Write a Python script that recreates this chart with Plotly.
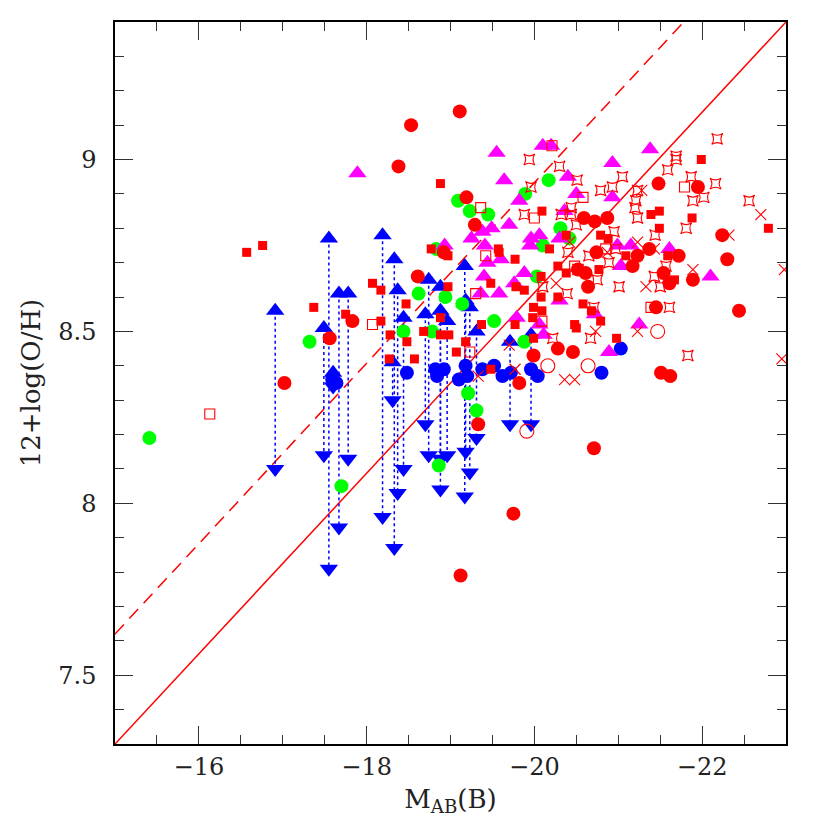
import plotly.graph_objects as go

# --- data (M_AB(B), 12+log(O/H)) ---
red_circ_mag = [-19.11, -18.53, -18.38, -17.02, -17.56, -19.19, -19.29, -18.92, -18.61, -17.83,
                -19.33, -19.75, -19.12, -20.59, -20.72, -20.87, -20.74, -21.17, -20.52, -20.61,
                -20.64, -21.23, -21.48, -21.95, -22.24, -22.30, -21.37, -21.72, -21.54, -21.89,
                -21.61, -21.45, -22.44, -21.51, -21.62, -20.28, -20.46, -19.99, -19.82, -20.71]
red_circ_oh = [9.14, 9.10, 8.98, 8.35, 8.48, 8.89, 8.81, 8.73, 8.66, 8.53,
               8.23, 7.97, 7.79, 8.83, 8.82, 8.83, 8.73, 8.69, 8.68, 8.67,
               8.63, 8.72, 8.93, 8.92, 8.78, 8.71, 8.74, 8.72, 8.67, 8.65,
               8.64, 8.57, 8.56, 8.38, 8.37, 8.45, 8.44, 8.43, 8.35, 8.16]

red_ocirc_mag = [-20.16, -20.64, -19.91, -21.47]
red_ocirc_oh = [8.40, 8.40, 8.21, 8.50]

red_sq_mag = [-16.57, -16.76, -17.37, -17.75, -18.88, -18.77, -18.97, -19.58, -18.07, -18.17,
              -18.97, -19.48, -18.17, -18.28, -18.48, -18.47, -18.27, -18.57, -18.68, -18.88,
              -18.88, -18.98, -19.37, -19.18, -19.07, -19.48, -20.09, -20.38, -19.57, -19.77,
              -20.18, -20.79, -20.88, -20.28, -20.38, -20.77, -21.09, -20.08, -19.78, -19.88,
              -21.99, -21.39, -21.49, -21.88, -21.49, -22.79, -21.59, -21.67, -20.08, -19.99,
              -20.09, -19.98, -19.77, -19.99, -20.28, -20.58, -20.68, -20.79, -20.48, -20.50,
              -20.98]
red_sq_oh = [8.73, 8.75, 8.57, 8.55, 8.93, 8.74, 8.72, 8.73, 8.64, 8.62,
             8.63, 8.64, 8.53, 8.49, 8.47, 8.58, 8.42, 8.42, 8.50, 8.54,
             8.49, 8.49, 8.52, 8.47, 8.44, 8.39, 8.85, 8.78, 8.74, 8.71,
             8.74, 8.78, 8.77, 8.69, 8.67, 8.68, 8.72, 8.66, 8.63, 8.62,
             9.00, 8.84, 8.85, 8.83, 8.80, 8.80, 8.72, 8.65, 8.60, 8.57,
             8.56, 8.54, 8.52, 8.48, 8.60, 8.58, 8.56, 8.53, 8.52, 8.51,
             8.48]

red_osq_mag = [-16.13, -18.07, -19.36, -19.42, -19.30, -19.23, -20.21, -20.58, -20.00, -20.48,
               -20.85, -21.79, -20.09, -21.39]
red_osq_oh = [8.26, 8.52, 8.86, 8.72, 8.61, 8.44, 9.04, 8.89, 8.83, 8.69,
              8.74, 8.92, 8.53, 8.57]

red_x_mag = [-19.33, -19.70, -20.42, -20.26, -20.87, -21.23, -21.28, -22.70, -22.32, -22.98,
             -21.89, -21.33, -21.43, -19.77, -20.36, -20.48, -20.73, -21.23, -22.95]
red_x_oh = [8.37, 8.46, 8.76, 8.64, 8.73, 8.76, 8.91, 8.84, 8.78, 8.68,
            8.68, 8.63, 8.74, 8.39, 8.36, 8.36, 8.50, 8.50, 8.42]

red_star_mag = [-19.94, -20.30, -19.96, -20.51, -20.79, -20.93, -21.05, -21.23, -21.21, -21.20,
                -21.23, -19.88, -20.32, -20.44, -20.44, -20.50, -20.40, -20.65, -20.95, -20.97,
                -20.89, -20.75, -21.01, -20.52, -20.10, -22.18, -21.69, -21.69, -21.59, -21.87,
                -22.16, -21.89, -22.02, -22.56, -21.81, -21.44, -21.57, -21.43, -21.50, -20.39,
                -20.71, -20.22, -20.67, -21.61, -21.83]
red_star_oh = [9.00, 8.98, 8.92, 8.94, 8.91, 8.92, 8.95, 8.91, 8.88, 8.86,
               8.83, 8.84, 8.84, 8.86, 8.84, 8.81, 8.73, 8.72, 8.79, 8.74,
               8.70, 8.65, 8.63, 8.68, 8.63, 9.06, 9.01, 9.00, 8.97, 8.95,
               8.93, 8.88, 8.89, 8.88, 8.80, 8.78, 8.69, 8.66, 8.63, 8.61,
               8.57, 8.48, 8.48, 8.57, 8.43]

mag_tri_mag = [-17.89, -19.55, -19.64, -19.70, -19.25, -19.38, -19.49, -19.41, -19.44, -19.60,
               -18.93, -19.40, -19.58, -19.36, -20.10, -20.20, -20.40, -20.93, -19.82, -20.50,
               -20.93, -19.96, -20.06, -19.95, -20.30, -20.36, -19.88, -19.76, -21.03, -21.15,
               -20.99, -21.38, -22.10, -21.61, -19.79, -20.06, -20.11, -20.30, -20.72, -20.89,
               -21.25]
mag_tri_oh = [8.96, 9.02, 8.94, 8.81, 8.77, 8.79, 8.80, 8.75, 8.70, 8.71,
              8.75, 8.66, 8.61, 8.61, 9.04, 9.04, 8.95, 8.99, 8.88, 8.90,
              8.89, 8.77, 8.78, 8.75, 8.77, 8.85, 8.67, 8.64, 8.69, 8.75,
              8.75, 9.03, 8.66, 8.74, 8.54, 8.52, 8.49, 8.59, 8.55, 8.44,
              8.52]

green_mag = [-15.41, -17.32, -17.70, -19.09, -19.23, -19.45, -18.83, -18.62, -18.94, -19.14,
             -18.44, -18.78, -19.52, -19.21, -19.31, -18.86, -20.17, -19.89, -20.31, -20.42,
             -20.10, -20.03, -19.88]
green_oh = [8.19, 8.47, 8.05, 8.88, 8.85, 8.84, 8.74, 8.61, 8.60, 8.58,
            8.50, 8.50, 8.53, 8.32, 8.27, 8.11, 8.94, 8.90, 8.80, 8.77,
            8.75, 8.66, 8.47]

blue_circ_mag = [-17.59, -17.64, -18.48, -18.82, -18.84, -18.92, -19.18, -19.10, -19.20, -19.38,
                 -19.52, -19.62, -19.72, -19.96, -20.04, -21.03, -20.80]
blue_circ_oh = [8.36, 8.35, 8.38, 8.39, 8.37, 8.39, 8.40, 8.36, 8.37, 8.39,
                8.40, 8.37, 8.38, 8.39, 8.37, 8.45, 8.38]

# blue ranges: triangle up at upper value, triangle down at lower value
rng_mag = [-16.91, -17.49, -17.55, -17.67, -17.78, -17.60, -18.19, -18.31, -18.33, -18.37,
           -18.44, -18.70, -18.74, -18.88, -18.88, -18.96, -19.17, -19.18, -19.23, -19.31,
           -19.71, -19.96]
rng_top = [8.56, 8.51, 8.77, 8.61, 8.61, 8.38, 8.78, 8.41, 8.71, 8.62,
           8.54, 8.55, 8.65, 8.63, 8.56, 8.53, 8.69, 8.59, 8.57, 8.50,
           8.47, 8.49]
rng_bot = [8.10, 8.14, 7.81, 7.93, 8.13, 8.34, 7.96, 8.30, 7.87, 8.03,
           8.10, 8.23, 8.14, 8.04, 8.13, 8.14, 8.02, 8.15, 8.09, 8.19,
           8.23, 8.23]

# relations: 12+log(O/H) = a + b*M  (dashed one shifted up)
rel_a = 3.3625
rel_b = -0.2625
rel_shift = 0.32

x_range = [-15, -23]
y_range = [7.3, 9.4]

RED, MAG, GRN, BLU = '#ff0000', '#ff00ff', '#00ff00', '#0000ff'

fig = go.Figure()

lx = [x_range[0], x_range[1]]
fig.add_trace(go.Scatter(x=lx, y=[rel_a + rel_b * m for m in lx], mode='lines',
                         line=dict(color=RED, width=1.5), hoverinfo='skip'))
fig.add_trace(go.Scatter(x=lx, y=[rel_a + rel_shift + rel_b * m for m in lx], mode='lines',
                         line=dict(color=RED, width=1.5, dash='13px,8px'), hoverinfo='skip'))

vx, vy = [], []
for m, t, b in zip(rng_mag, rng_top, rng_bot):
    vx += [m, m, None]
    vy += [t, b, None]
fig.add_trace(go.Scatter(x=vx, y=vy, mode='lines', line=dict(color=BLU, width=1.5, dash='dot')))
fig.add_trace(go.Scatter(x=rng_mag, y=rng_top, mode='markers',
                         marker=dict(symbol='triangle-up', size=16, color=BLU)))
fig.add_trace(go.Scatter(x=rng_mag, y=rng_bot, mode='markers',
                         marker=dict(symbol='triangle-down', size=16, color=BLU)))
fig.add_trace(go.Scatter(x=blue_circ_mag, y=blue_circ_oh, mode='markers',
                         marker=dict(symbol='circle', size=14, color=BLU)))
fig.add_trace(go.Scatter(x=green_mag, y=green_oh, mode='markers',
                         marker=dict(symbol='circle', size=14, color=GRN)))
fig.add_trace(go.Scatter(x=mag_tri_mag, y=mag_tri_oh, mode='markers',
                         marker=dict(symbol='triangle-up', size=16, color=MAG)))
fig.add_trace(go.Scatter(x=red_star_mag, y=red_star_oh, mode='markers',
                         marker=dict(symbol='star-square-open', size=10, color=RED, line=dict(width=1.1))))
fig.add_trace(go.Scatter(x=red_x_mag, y=red_x_oh, mode='markers',
                         marker=dict(symbol='x-thin-open', size=11, color=RED, line=dict(width=1.1))))
fig.add_trace(go.Scatter(x=red_ocirc_mag, y=red_ocirc_oh, mode='markers',
                         marker=dict(symbol='circle-open', size=14, color=RED, line=dict(width=1.1))))
fig.add_trace(go.Scatter(x=red_osq_mag, y=red_osq_oh, mode='markers',
                         marker=dict(symbol='square-open', size=10, color=RED, line=dict(width=1.1))))
fig.add_trace(go.Scatter(x=red_sq_mag, y=red_sq_oh, mode='markers',
                         marker=dict(symbol='square', size=9, color=RED)))
fig.add_trace(go.Scatter(x=red_circ_mag, y=red_circ_oh, mode='markers',
                         marker=dict(symbol='circle', size=14, color=RED)))

axis_font = dict(family='DejaVu Serif', size=24, color='#222')
fig.update_xaxes(range=x_range, dtick=2, tick0=-16, ticks='inside', ticklen=18, tickwidth=1,
                 tickcolor='#333', minor=dict(dtick=0.5, ticks='inside', ticklen=9, tickcolor='#333'),
                 showline=True, linecolor='black', linewidth=1.5, mirror='allticks',
                 showgrid=False, zeroline=False, tickfont=axis_font,
                 title=dict(text='M<sub>AB</sub>(B)', font=dict(family='DejaVu Serif', size=26, color='#222'),
                            standoff=10))
fig.update_yaxes(range=y_range, tickvals=[7.5, 8, 8.5, 9], ticktext=['7.5', '8', '8.5', '9'],
                 ticks='inside', ticklen=18, tickwidth=1, tickcolor='#333',
                 minor=dict(dtick=0.1, ticks='inside', ticklen=9, tickcolor='#333'),
                 showline=True, linecolor='black', linewidth=1.5, mirror='allticks',
                 showgrid=False, zeroline=False, tickfont=axis_font, ticklabelstandoff=12,
                 title=dict(text='12+log(O/H)', font=dict(family='DejaVu Serif', size=26, color='#222'),
                            standoff=10))
fig.update_layout(width=830, height=830, margin=dict(l=107, r=52, t=12, b=94),
                  plot_bgcolor='white', paper_bgcolor='white', showlegend=False)

fig.write_html("out.html")
